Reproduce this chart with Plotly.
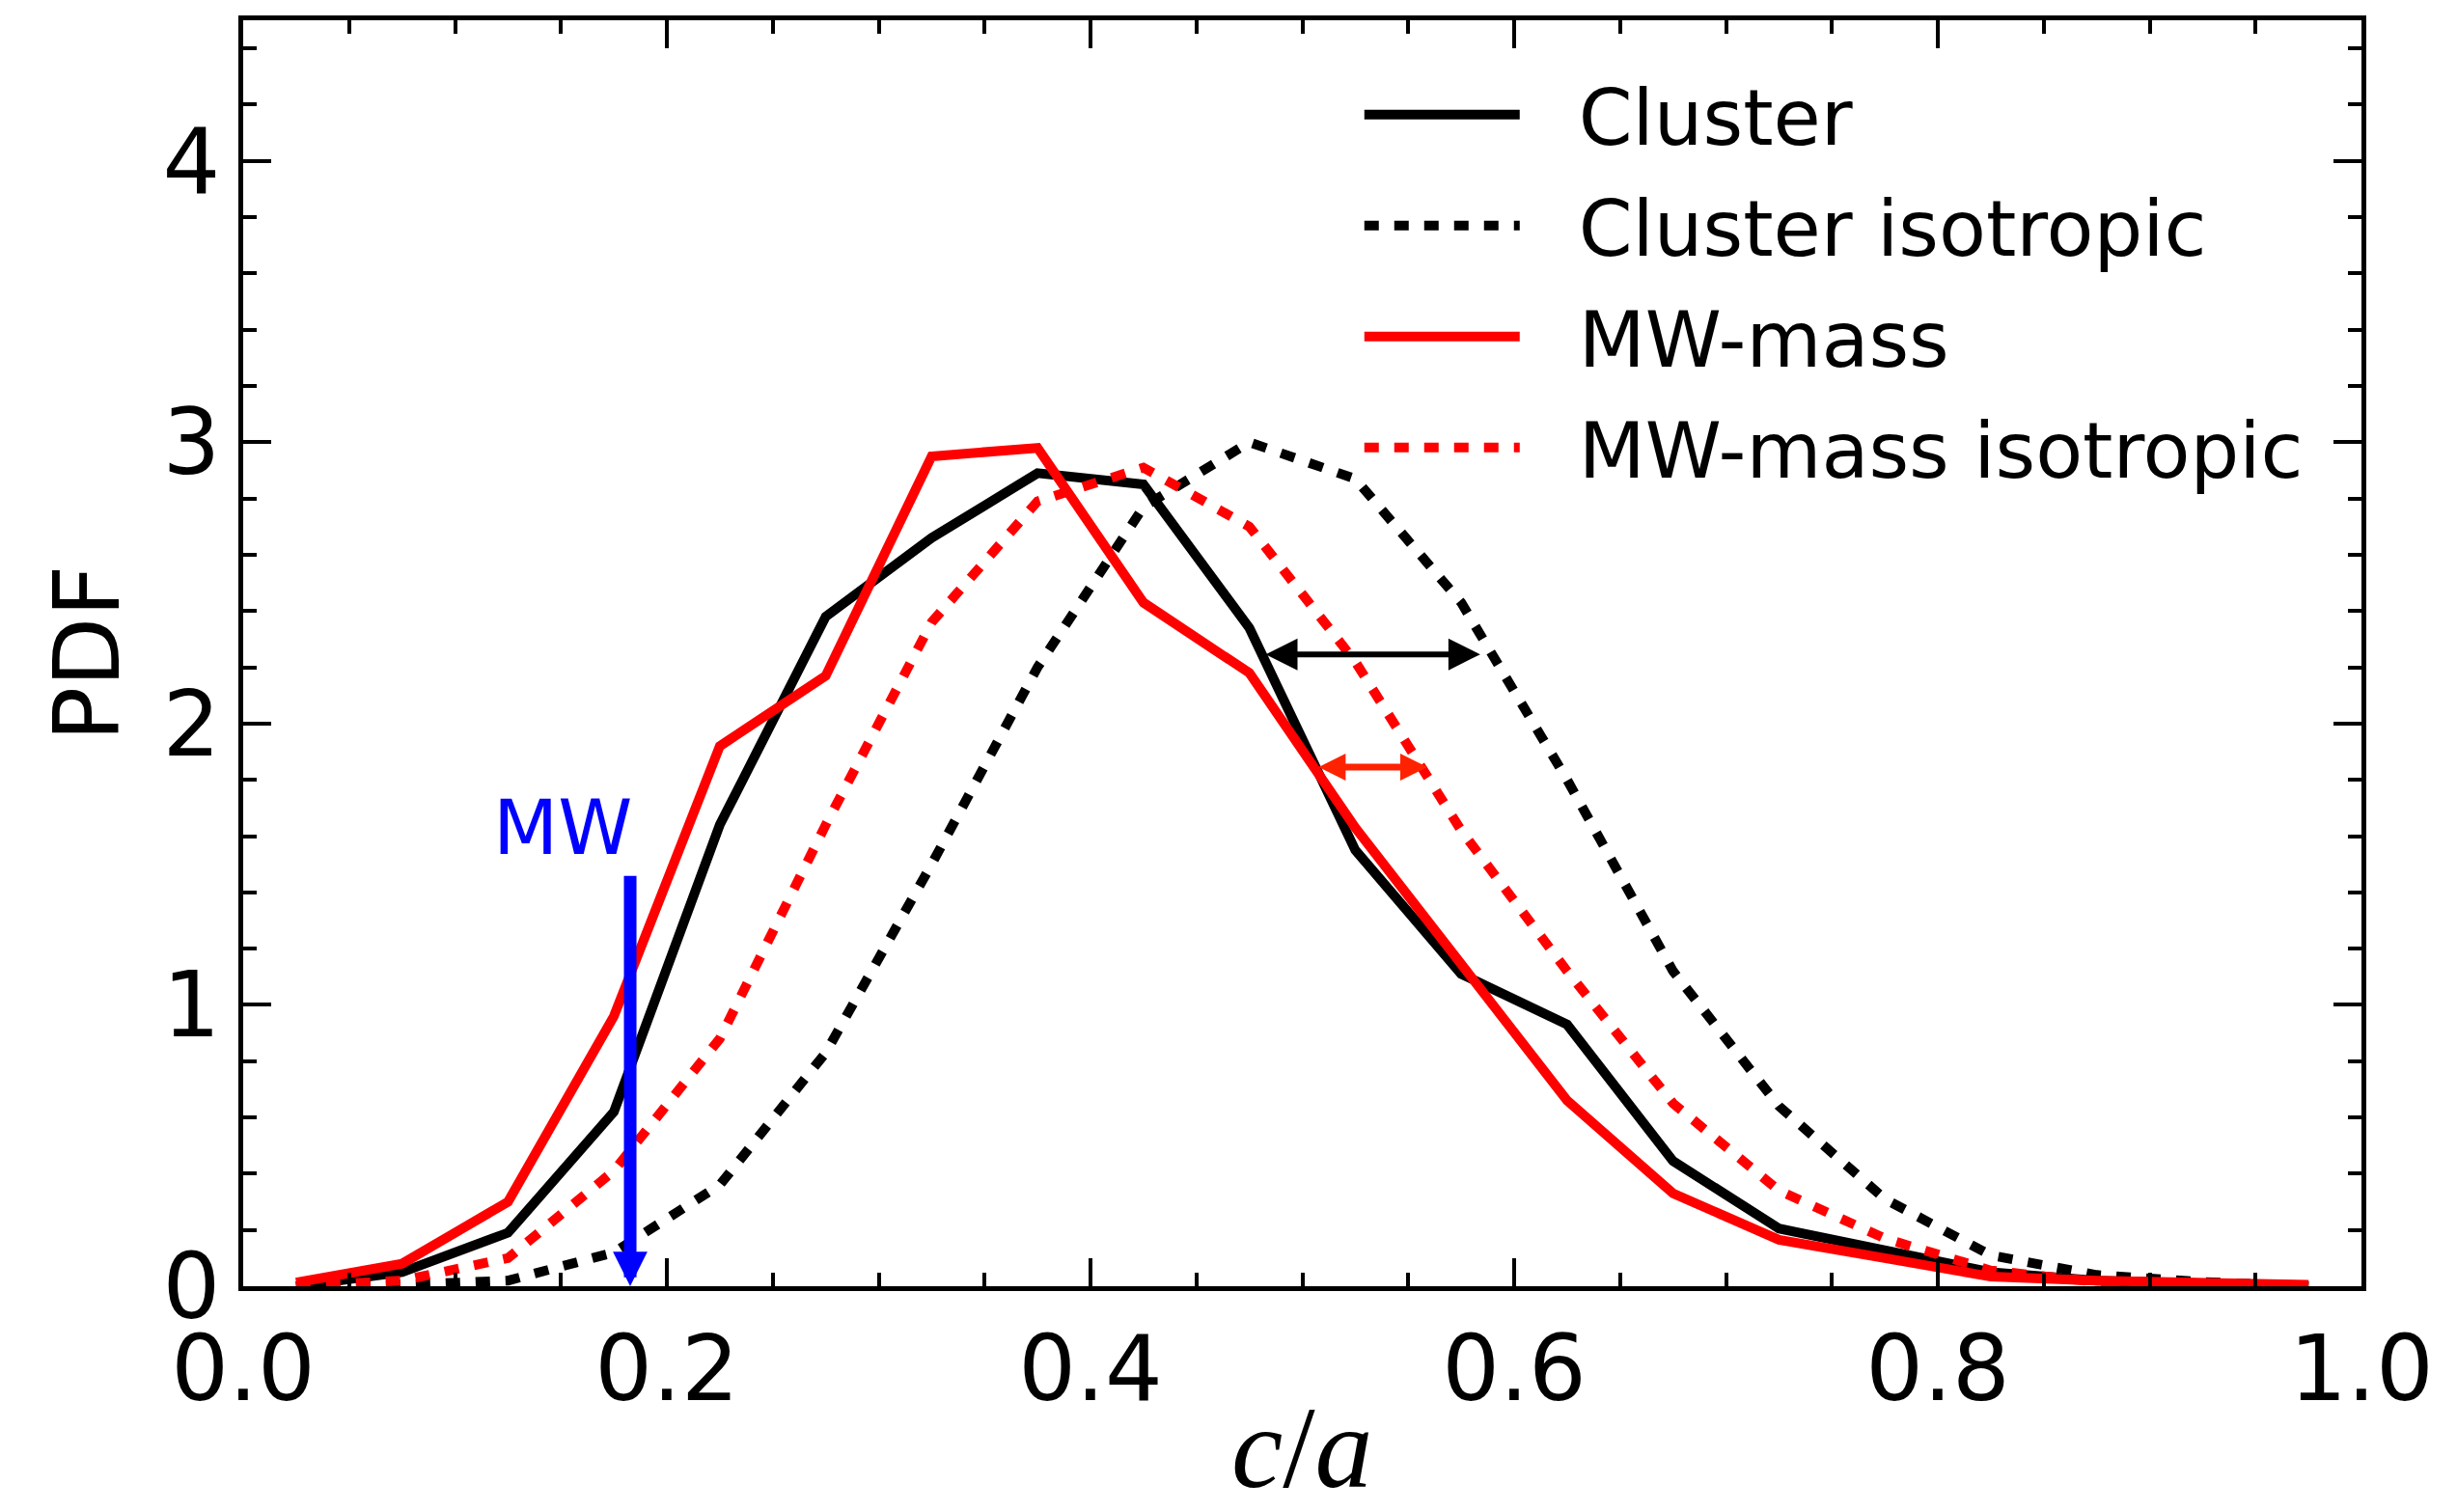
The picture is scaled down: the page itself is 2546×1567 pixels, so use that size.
import plotly.graph_objects as go

# Bin centres of c/a
ca_bins = [0.025, 0.075, 0.125, 0.175, 0.225, 0.275, 0.325, 0.375, 0.425, 0.475,
           0.525, 0.575, 0.625, 0.675, 0.725, 0.775, 0.825, 0.875, 0.925, 0.975]

cluster = [0.0, 0.05, 0.19, 0.62, 1.64, 2.38, 2.66, 2.89, 2.85, 2.34,
           1.55, 1.11, 0.93, 0.445, 0.205, 0.125, 0.05, 0.02, 0.01, 0.0]
cluster_iso = [0.0, 0.005, 0.02, 0.12, 0.36, 0.83, 1.50, 2.20, 2.77, 3.00,
               2.87, 2.43, 1.80, 1.12, 0.64, 0.31, 0.11, 0.04, 0.015, 0.0]
mw_mass = [0.013, 0.08, 0.30, 0.96, 1.92, 2.17, 2.95, 2.98, 2.43, 2.18,
           1.63, 1.15, 0.66, 0.33, 0.165, 0.10, 0.034, 0.02, 0.01, 0.005]
mw_mass_iso = [0.0, 0.02, 0.10, 0.41, 0.88, 1.64, 2.36, 2.79, 2.91, 2.70,
               2.22, 1.62, 1.12, 0.65, 0.34, 0.17, 0.056, 0.015, 0.005, 0.0]

series_names = ["Cluster", "Cluster isotropic", "MW-mass", "MW-mass isotropic"]

# Milky Way value and arrow extent
mw_ca = 0.1827
mw_arrow_top = 1.464
mw_label_x = 0.151
mw_label_y = 1.63

# Offset arrows (solid -> isotropic)
cluster_shift = [0.482, 0.584]
cluster_shift_y = 2.246
mw_shift = [0.507, 0.559]
mw_shift_y = 1.845

xticks = [0.0, 0.2, 0.4, 0.6, 0.8, 1.0]
yticks = [0, 1, 2, 3, 4]

FONT = "DejaVu Sans"
LW = 10
DOT = "15px,16px"

fig = go.Figure()
styles = [("black", "solid"), ("black", DOT), ("red", "solid"), ("red", DOT)]
for name, ys, (col, dash) in zip(series_names, [cluster, cluster_iso, mw_mass, mw_mass_iso], styles):
    fig.add_trace(go.Scatter(x=ca_bins, y=ys, mode="lines", name="\u2002\u2009" + name,
                             legendgroup=name,
                             line=dict(color=col, width=LW, dash=dash)))

# MW arrow
fig.add_annotation(x=mw_ca, y=0, ax=mw_ca, ay=mw_arrow_top, xref="x", yref="y",
                   axref="x", ayref="y", text="", showarrow=True, arrowhead=2,
                   arrowsize=0.55, arrowwidth=13, arrowcolor="#0000ff", standoff=0)
fig.add_annotation(x=mw_label_x, y=mw_label_y, xref="x", yref="y", text="MW", showarrow=False,
                   font=dict(family=FONT, size=78, color="#0000ff"))
# double arrows
fig.add_annotation(x=cluster_shift[1], y=cluster_shift_y, ax=cluster_shift[0], ay=cluster_shift_y,
                   xref="x", yref="y", axref="x", ayref="y", text="", showarrow=True,
                   arrowhead=2, startarrowhead=2, arrowside="end+start", arrowsize=1.1,
                   startarrowsize=1.1, arrowwidth=6, arrowcolor="black")
fig.add_annotation(x=mw_shift[1], y=mw_shift_y, ax=mw_shift[0], ay=mw_shift_y,
                   xref="x", yref="y", axref="x", ayref="y", text="", showarrow=True,
                   arrowhead=2, startarrowhead=2, arrowside="end+start", arrowsize=0.8,
                   startarrowsize=0.8, arrowwidth=7, arrowcolor="#ff2200")

# x-axis title (math-style italic)
fig.add_annotation(x=0.5, y=-0.128, xref="paper", yref="paper", text="<i>c</i>/<i>a</i>",
                   showarrow=False, yanchor="middle", xanchor="center",
                   font=dict(family="Liberation Serif", size=120, color="black"))

axis_common = dict(showline=True, linewidth=5, linecolor="black", mirror="ticks",
                   ticks="inside", ticklen=29, tickwidth=4, tickcolor="black",
                   showgrid=False, zeroline=False, automargin=False,
                   tickfont=dict(family=FONT, size=94, color="black"))

fig.update_xaxes(range=[0, 1], tickvals=xticks, ticktext=[f"{v:.1f}" for v in xticks],
                 minor=dict(dtick=0.05, ticklen=14, tickwidth=4, ticks="inside", tickcolor="black"),
                 **axis_common)
fig.update_yaxes(range=[0, 4.5], tickvals=yticks, ticktext=[str(v) for v in yticks],
                 minor=dict(dtick=0.2, ticklen=14, tickwidth=4, ticks="inside", tickcolor="black"),
                 title=dict(text="PDF", font=dict(family=FONT, size=94, color="black")),
                 **axis_common)

fig.update_layout(width=2546, height=1567, margin=dict(l=252, r=99, t=21, b=234),
                  plot_bgcolor="white", paper_bgcolor="white",
                  legend=dict(x=0.527, y=0.970, xanchor="left", yanchor="top",
                              font=dict(family=FONT, size=80, color="black"),
                              bgcolor="rgba(0,0,0,0)", itemwidth=161, tracegroupgap=8),
                  showlegend=True)

fig.write_html("out.html")
